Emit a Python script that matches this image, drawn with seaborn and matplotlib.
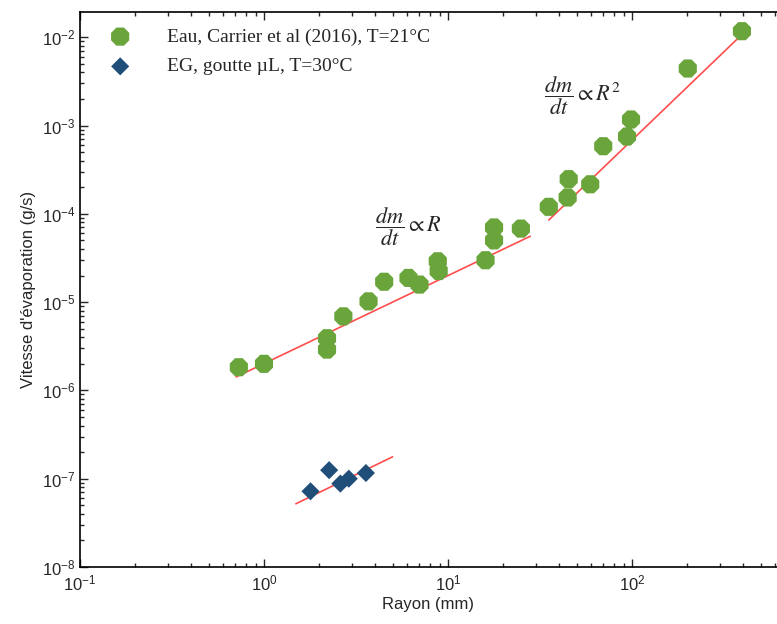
import numpy as np
import pandas as pd
import seaborn as sns
import matplotlib.pyplot as plt
from matplotlib.ticker import FuncFormatter, LogLocator

# Water data (Carrier et al 2016), radius in mm, rate in g/s
eau_rayon = [0.73, 1.0, 2.2, 2.2, 2.7, 3.7, 4.5, 6.1, 7.0, 8.8, 8.9, 16.0, 17.8, 17.8, 24.9,
             35.3, 44.7, 45.3, 59.3, 69.8, 94.0, 98.8, 201.0, 396.0]
eau_vitesse = [1.83e-6, 2.0e-6, 3.9e-6, 2.9e-6, 6.9e-6, 1.02e-5, 1.7e-5, 1.88e-5, 1.58e-5, 2.9e-5, 2.25e-5,
               2.98e-5, 7.0e-5, 5.0e-5, 6.8e-5,
               1.2e-4, 1.53e-4, 2.47e-4, 2.16e-4, 5.83e-4, 7.5e-4, 1.17e-3, 4.42e-3, 1.17e-2]

# EG droplets
eg_rayon = [1.79, 2.26, 2.6, 2.89, 3.58]
eg_vitesse = [7.2e-8, 1.25e-7, 8.8e-8, 1.0e-7, 1.16e-7]

# fitted trend lines (end points)
fit_r_x = [0.705, 28.0]
fit_r_y = [1.42e-6, 5.57e-5]
fit_r2_x = [35.3, 386.0]
fit_r2_y = [8.5e-5, 1.02e-2]
fit_eg_x = [1.49, 5.0]
fit_eg_y = [5.2e-8, 1.77e-7]

sns.set_style("ticks")
plt.rcParams["font.family"] = ["Liberation Sans", "DejaVu Sans"]

fig = plt.figure(figsize=(7.77, 6.24), dpi=100)
ax = fig.add_axes([80 / 777, 57 / 624, 697 / 777, 555 / 624])

red = "#ff4d4d"
sns.lineplot(x=fit_r_x, y=fit_r_y, ax=ax, color=red, lw=1.2)
sns.lineplot(x=fit_r2_x, y=fit_r2_y, ax=ax, color=red, lw=1.2)
sns.lineplot(x=fit_eg_x, y=fit_eg_y, ax=ax, color=red, lw=1.2)

sns.scatterplot(x=eau_rayon, y=eau_vitesse, ax=ax, marker="8", s=200, color="#6aa53c",
                edgecolor="none", label="Eau, Carrier et al (2016), T=21°C", zorder=3)
sns.scatterplot(x=eg_rayon, y=eg_vitesse, ax=ax, marker="D", s=85, color="#1f4e79",
                edgecolor="none", label="EG, goutte µL, T=30°C", zorder=3)

ax.set_xscale("log")
ax.set_yscale("log")
ax.set_xlim(0.1, 614)
ax.set_ylim(1e-8, 0.0193)

fmt = FuncFormatter(lambda v, p: r"$\mathregular{10^{%d}}$" % round(np.log10(v)))
ax.xaxis.set_major_formatter(fmt)
ax.yaxis.set_major_formatter(fmt)
ax.xaxis.set_major_locator(LogLocator(base=10, numticks=10))
ax.yaxis.set_major_locator(LogLocator(base=10, numticks=10))
ax.xaxis.set_minor_locator(LogLocator(base=10, subs=np.arange(2, 10), numticks=20))
ax.yaxis.set_minor_locator(LogLocator(base=10, subs=np.arange(2, 10), numticks=20))

ax.tick_params(which="both", direction="in", top=True, right=False, labelsize=12, width=1)
ax.tick_params(which="major", length=6)
ax.tick_params(which="minor", length=3)
ax.tick_params(axis="x", pad=5)
for s in ["left", "bottom", "top"]:
    ax.spines[s].set_linewidth(1.2)
    ax.spines[s].set_color("black")
ax.spines["right"].set_visible(False)

ax.set_xlabel("Rayon (mm)", fontsize=12, labelpad=2)
ax.set_ylabel("Vitesse d'évaporation (g/s)", fontsize=12)

ax.text(4.0, 7.2e-5, r"$\dfrac{dm}{dt}\propto R$", fontsize=16, ha="left", va="center",
        math_fontfamily="stix")
ax.text(33.2, 2.2e-3, r"$\dfrac{dm}{dt}\propto R^2$", fontsize=16, ha="left", va="center",
        math_fontfamily="stix")

leg = ax.legend(loc="upper left", frameon=False, bbox_to_anchor=(0.013, 0.992),
                handletextpad=1.4, labelspacing=0.62, borderaxespad=0.2,
                prop={"family": "Liberation Serif", "size": 14})

fig.savefig("out.png", dpi=100)
